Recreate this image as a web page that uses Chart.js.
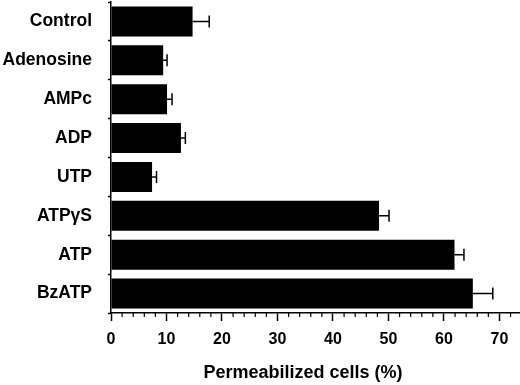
<!DOCTYPE html>
<html lang="en">

<head>
    <meta charset="UTF-8">
    <title>Permeabilized cells</title>
    <script src="https://cdn.jsdelivr.net/npm/chart.js"></script>
    <style>
        body { margin: 0; background: #fff; }
        #caixa { width: 520px; height: 385px; }
    </style>
</head>

<body>
    <div id="caixa">
        <canvas id="grafico"></canvas>
    </div>

<script>
    // dados
    const categorias = ['Control', 'Adenosine', 'AMPc', 'ADP', 'UTP', 'ATP\u03b3S', 'ATP', 'BzATP'];
    const valores = [14.7, 9.4, 10.1, 12.6, 7.4, 48.3, 61.9, 65.2];
    const erros = [3.0, 0.7, 0.9, 0.8, 0.8, 1.8, 1.7, 3.6];
    const ticksX = [0, 10, 20, 30, 40, 50, 60, 70];
    const ticksMenores = [2, 4, 6, 8, 12, 14, 16, 18, 22, 24, 26, 28, 32, 34, 36, 38, 42, 44, 46, 48, 52, 54, 56, 58, 62, 64, 66, 68, 72];

    const fonte = "'Liberation Sans', Arial, sans-serif";

    // barras de erro + ticks menores do eixo x
    const extras = {
        id: 'extras',
        afterDatasetsDraw(chart) {
            const ctx = chart.ctx;
            const x = chart.scales.x;
            const barras = chart.getDatasetMeta(0).data;
            ctx.save();
            ctx.strokeStyle = '#000';
            ctx.lineWidth = 1.5;
            barras.forEach(function (b, i) {
                const x1 = x.getPixelForValue(valores[i]);
                const x2 = x.getPixelForValue(valores[i] + erros[i]);
                ctx.beginPath();
                ctx.moveTo(x1, b.y);
                ctx.lineTo(x2, b.y);
                ctx.moveTo(x2, b.y - 6);
                ctx.lineTo(x2, b.y + 6);
                ctx.stroke();
            });
            const yb = chart.chartArea.bottom;
            ctx.lineWidth = 1.2;
            ticksMenores.forEach(function (v) {
                const px = x.getPixelForValue(v);
                ctx.beginPath();
                ctx.moveTo(px, yb);
                ctx.lineTo(px, yb + 4);
                ctx.stroke();
            });
            ctx.restore();
        }
    };

    new Chart(document.getElementById('grafico'), {
        type: 'bar',
        data: {
            labels: categorias,
            datasets: [{
                data: valores,
                backgroundColor: '#000',
                borderWidth: 0,
                barPercentage: 0.77,
                categoryPercentage: 1
            }]
        },
        options: {
            indexAxis: 'y',
            responsive: true,
            maintainAspectRatio: false,
            animation: false,
            layout: { padding: { top: 2, right: 0, left: 0, bottom: 0 } },
            plugins: {
                legend: { display: false },
                tooltip: { enabled: false }
            },
            scales: {
                x: {
                    min: 0,
                    max: 73.7,
                    afterBuildTicks: function (scale) {
                        scale.ticks = ticksX.map(v => ({ value: v }));
                    },
                    afterFit: function (scale) {
                        scale.height = 72;
                        scale.paddingLeft = 0;
                        scale.paddingRight = 0;
                    },
                    grid: {
                        drawOnChartArea: false,
                        tickLength: 8,
                        tickWidth: 1.5,
                        tickColor: '#000'
                    },
                    border: { color: '#000', width: 1.5 },
                    ticks: {
                        color: '#000',
                        padding: 9,
                        maxRotation: 0,
                        font: { family: fonte, size: 16, weight: 'bold' }
                    },
                    title: {
                        display: true,
                        text: 'Permeabilized cells (%)     ',
                        color: '#000',
                        padding: { top: 0, bottom: 1 },
                        font: { family: fonte, size: 18, weight: 'bold' }
                    }
                },
                y: {
                    afterFit: function (scale) {
                        scale.width = 111;
                        scale.paddingTop = 0;
                        scale.paddingBottom = 0;
                    },
                    grid: {
                        offset: true,
                        drawOnChartArea: false,
                        tickLength: 3,
                        tickWidth: 1.5,
                        tickColor: '#000'
                    },
                    border: { color: '#000', width: 1.5 },
                    ticks: {
                        color: '#000',
                        padding: 16,
                        font: { family: fonte, size: 17.5, weight: 'bold' }
                    }
                }
            }
        },
        plugins: [extras]
    });
</script>
</body>

</html>
